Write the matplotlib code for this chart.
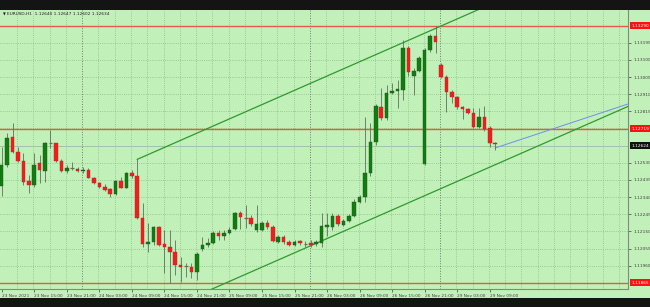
import matplotlib
matplotlib.use("Agg")
import matplotlib.pyplot as plt
from matplotlib.patches import Rectangle
import numpy as np

# ---------------- data ----------------
opens = [1.12401, 1.12518, 1.12671, 1.12591, 1.12542, 1.12429, 1.12407, 1.12527, 1.12486, 1.12641,
         1.12638, 1.12542, 1.12486, 1.12503, 1.12497, 1.12483, 1.12490, 1.12447, 1.12420, 1.12398,
         1.12383, 1.12356, 1.12429, 1.12392, 1.12472, 1.12457, 1.12224, 1.12080, 1.12091, 1.12174,
         1.12080, 1.12064, 1.12036, 1.11964, 1.11958, 1.11953, 1.11925, 1.12051, 1.12075, 1.12086,
         1.12141, 1.12125, 1.12141, 1.12163, 1.12252, 1.12224, 1.12224, 1.12158, 1.12158, 1.12197,
         1.12174, 1.12091, 1.12119, 1.12091, 1.12075, 1.12097, 1.12080, 1.12086, 1.12080, 1.12087,
         1.12174, 1.12174, 1.12235, 1.12186, 1.12209, 1.12235, 1.12315, 1.12339, 1.12473, 1.12645,
         1.12841, 1.12780, 1.12918, 1.12929, 1.12933, 1.13166, 1.13011, 1.13040, 1.12522, 1.13155,
         1.13234, 1.13072, 1.13005, 1.12924, 1.12893, 1.12837, 1.12828, 1.12807, 1.12730, 1.12782,
         1.12724, 1.12640]
highs = [1.12619, 1.12693, 1.12749, 1.12619, 1.12584, 1.12462, 1.12583, 1.12573, 1.12647, 1.12712,
         1.12641, 1.12551, 1.12518, 1.12533, 1.12508, 1.12508, 1.12500, 1.12453, 1.12425, 1.12413,
         1.12389, 1.12435, 1.12453, 1.12481, 1.12490, 1.12549, 1.12306, 1.12197, 1.12180, 1.12180,
         1.12158, 1.12158, 1.12102, 1.12008, 1.11975, 1.11975, 1.12036, 1.12119, 1.12113, 1.12152,
         1.12158, 1.12158, 1.12174, 1.12257, 1.12263, 1.12296, 1.12241, 1.12296, 1.12208, 1.12213,
         1.12186, 1.12130, 1.12130, 1.12102, 1.12102, 1.12102, 1.12097, 1.12102, 1.12102, 1.12252,
         1.12252, 1.12252, 1.12246, 1.12219, 1.12246, 1.12329, 1.12352, 1.12785, 1.12750, 1.12856,
         1.12944, 1.12961, 1.12972, 1.12988, 1.13210, 1.13177, 1.13055, 1.13121, 1.13166, 1.13243,
         1.13290, 1.13083, 1.13016, 1.12933, 1.12900, 1.12844, 1.12833, 1.12833, 1.12833, 1.12844,
         1.12734, 1.12647]
lows = [1.12346, 1.12508, 1.12583, 1.12536, 1.12407, 1.12361, 1.12398, 1.12416, 1.12425, 1.12610,
        1.12536, 1.12481, 1.12475, 1.12490, 1.12479, 1.12472, 1.12444, 1.12413, 1.12389, 1.12375,
        1.12342, 1.12352, 1.12389, 1.12389, 1.12444, 1.12217, 1.12065, 1.12036, 1.12075, 1.12069,
        1.11920, 1.11864, 1.11909, 1.11870, 1.11897, 1.11892, 1.11881, 1.12041, 1.12064, 1.12080,
        1.12102, 1.12102, 1.12136, 1.12158, 1.12163, 1.12169, 1.12180, 1.12147, 1.12152, 1.12163,
        1.12091, 1.12086, 1.12080, 1.12069, 1.12069, 1.12075, 1.12064, 1.12064, 1.12069, 1.12064,
        1.12125, 1.12158, 1.12180, 1.12180, 1.12202, 1.12230, 1.12307, 1.12315, 1.12457, 1.12628,
        1.12767, 1.12767, 1.12911, 1.12833, 1.12878, 1.13011, 1.12905, 1.13033, 1.12518, 1.13144,
        1.13138, 1.12999, 1.12811, 1.12861, 1.12828, 1.12772, 1.12800, 1.12723, 1.12723, 1.12706,
        1.12619, 1.12602]
closes = [1.12518, 1.12666, 1.12591, 1.12542, 1.12425, 1.12407, 1.12518, 1.12490, 1.12641, 1.12641,
          1.12542, 1.12486, 1.12503, 1.12503, 1.12483, 1.12490, 1.12447, 1.12420, 1.12394, 1.12381,
          1.12356, 1.12429, 1.12392, 1.12472, 1.12457, 1.12226, 1.12080, 1.12091, 1.12174, 1.12075,
          1.12064, 1.12036, 1.11964, 1.11953, 1.11958, 1.11925, 1.12025, 1.12075, 1.12086, 1.12141,
          1.12125, 1.12141, 1.12158, 1.12252, 1.12230, 1.12224, 1.12191, 1.12191, 1.12197, 1.12174,
          1.12097, 1.12119, 1.12091, 1.12075, 1.12091, 1.12083, 1.12080, 1.12075, 1.12093, 1.12180,
          1.12186, 1.12235, 1.12191, 1.12209, 1.12235, 1.12315, 1.12341, 1.12475, 1.12645, 1.12844,
          1.12780, 1.12916, 1.12929, 1.12939, 1.13166, 1.13034, 1.13040, 1.13110, 1.13155, 1.13234,
          1.13201, 1.13007, 1.12924, 1.12893, 1.12837, 1.12826, 1.12807, 1.12730, 1.12782, 1.12715,
          1.12638, 1.12634]

time_label_idx = [0, 6, 12, 18, 24, 30, 36, 42, 48, 54, 60, 66, 72, 78, 84, 90]
time_labels = ["23 Nov 2021", "23 Nov 15:00", "23 Nov 21:00", "24 Nov 03:00", "24 Nov 09:00",
               "24 Nov 15:00", "24 Nov 21:00", "25 Nov 09:00", "25 Nov 15:00", "25 Nov 21:00",
               "26 Nov 03:00", "26 Nov 09:00", "26 Nov 15:00", "26 Nov 21:00", "29 Nov 03:00",
               "29 Nov 09:00"]
price_ticks = [1.11960, 1.12055, 1.12150, 1.12245, 1.12340, 1.12435, 1.12530,
               1.12815, 1.12910, 1.13005, 1.13100, 1.13195]
price_tick_labels = ["1.11960", "1.12055", "1.12150", "1.12245", "1.12340", "1.12435", "1.12530",
                     "1.12815", "1.12910", "1.13005", "1.13100", "1.13195"]
grid_prices = [1.11865 + 0.00095 * k for k in range(16)]
grid_idx = [2.85 + 3 * k for k in range(39)]
separator_idx = [14.85, 56.85, 80.85]

hlines_price = [1.13290, 1.12719, 1.11865]
hlines_label = ["1.13290", "1.12719", "1.11865"]
bid_price = 1.12624
bid_label = "1.12624"

channel_idx = [25, 85]
channel_upper = [1.12549, 1.13340]
channel_width = 0.00900

blue_idx = [91, 110]
blue_price = [1.12612, 1.12801]

header = "EURUSD,H1  1.12640 1.12647 1.12602 1.12634"

# ---------------- figure ----------------
W, H = 650, 307
BG = "#c1f0b9"
fig = plt.figure(figsize=(W / 100, H / 100), dpi=100, facecolor=BG)
fig.patches.append(Rectangle((0, 1 - 9.5 / H), 1, 9.5 / H, transform=fig.transFigure,
                             facecolor="#141414", edgecolor="none", zorder=0))
fig.patches.append(Rectangle((0, 0), 1, 9.3 / H, transform=fig.transFigure,
                             facecolor="#141414", edgecolor="none", zorder=0))

ax_left, ax_right = 0.0, 628.3 / W
ax_bottom, ax_top = (H - 289.3) / H, (H - 9.5) / H
ax = fig.add_axes([ax_left, ax_bottom, ax_right - ax_left, ax_top - ax_bottom], facecolor=BG)

n = len(opens)
idx = np.arange(n)
ax.set_xlim(-0.31, 115.55)
ax.set_ylim(1.118293, 1.133789)

# grid
gcol = "#8dbf88"
for p in grid_prices:
    ax.axhline(p, color=gcol, lw=0.6, ls=(0, (1, 1.6)), zorder=1)
for gx in grid_idx:
    if any(abs(gx - s) < 0.01 for s in separator_idx):
        continue
    ax.axvline(gx, color=gcol, lw=0.6, ls=(0, (1, 1.6)), zorder=1)
for s in separator_idx:
    ax.axvline(s, color="#6f7f6f", lw=0.7, ls=(0, (1, 1.6)), zorder=1)

# horizontal levels
for p in hlines_price:
    ax.axhline(p, color="#e5584a", lw=1.0, zorder=2)
ax.axhline(bid_price, color="#a9b9a9", lw=0.6, zorder=2)

# channel
xs = np.array([channel_idx[0], 200.0])
slope = (channel_upper[1] - channel_upper[0]) / (channel_idx[1] - channel_idx[0])
up = channel_upper[0] + slope * (xs - channel_idx[0])
ax.plot(xs, up, color="#2f9a2f", lw=0.9, zorder=3)
ax.plot(xs, up - channel_width, color="#2f9a2f", lw=0.9, zorder=3)

# blue trend line (ray)
bslope = (blue_price[1] - blue_price[0]) / (blue_idx[1] - blue_idx[0])
bx = np.array([blue_idx[0], 200.0])
ax.plot(bx, blue_price[0] + bslope * (bx - blue_idx[0]), color="#6f8fe8", lw=0.7, zorder=3)

# candles
o = np.array(opens); c = np.array(closes); hi = np.array(highs); lo = np.array(lows)
ax.vlines(idx, lo, hi, color="#5f6f5f", lw=0.6, zorder=4)
bull = c > o
bear = c < o
doji = c == o
bw = 0.66
ax.bar(idx[bull], (c - o)[bull], bottom=o[bull], width=bw, color="#0c7f0c",
       edgecolor="#2b4f2b", linewidth=0.3, zorder=5)
ax.bar(idx[bear], (o - c)[bear], bottom=c[bear], width=bw, color="#f41b1b",
       edgecolor="#b02a2a", linewidth=0.3, zorder=5)
ax.hlines(o[doji], idx[doji] - bw / 2, idx[doji] + bw / 2, color="#6f6a5a", lw=0.9, zorder=5)

# axes styling
for side in ["top", "left"]:
    ax.spines[side].set_visible(False)
for side in ["right", "bottom"]:
    ax.spines[side].set_color("#7d8d7d")
    ax.spines[side].set_linewidth(0.8)

ax.yaxis.tick_right()
ax.set_yticks(price_ticks)
ax.set_yticklabels(price_tick_labels)
ax.tick_params(axis="y", length=2, width=0.5, pad=1.5, labelsize=3.1,
               colors="#404040", direction="out")
ax.set_xticks(time_label_idx)
ax.set_xticklabels(time_labels, ha="left")
ax.tick_params(axis="x", length=2, width=0.5, pad=1.2, labelsize=3.1,
               colors="#404040", direction="out")

# price boxes
def price_box(p, txt, fc):
    ax.annotate(txt, xy=(1.0, p), xycoords=("axes fraction", "data"),
                xytext=(2.2, 0), textcoords="offset points", ha="left", va="center",
                fontsize=3.1, color="white",
                bbox=dict(boxstyle="square,pad=0.35", fc=fc, ec="none"),
                annotation_clip=False, zorder=10)

for p, t in zip(hlines_price, hlines_label):
    price_box(p, t, "#ff1010")
price_box(bid_price, bid_label, "#101010")

# header
fig.text(3 / W, 1 - 14 / H, "\u25bc", fontsize=2.6, color="#202020", va="center", ha="left")
fig.text(7 / W, 1 - 14 / H, header, fontsize=3.1, color="#202020", va="center", ha="left")

fig.savefig("out.png", dpi=100, facecolor=BG)
